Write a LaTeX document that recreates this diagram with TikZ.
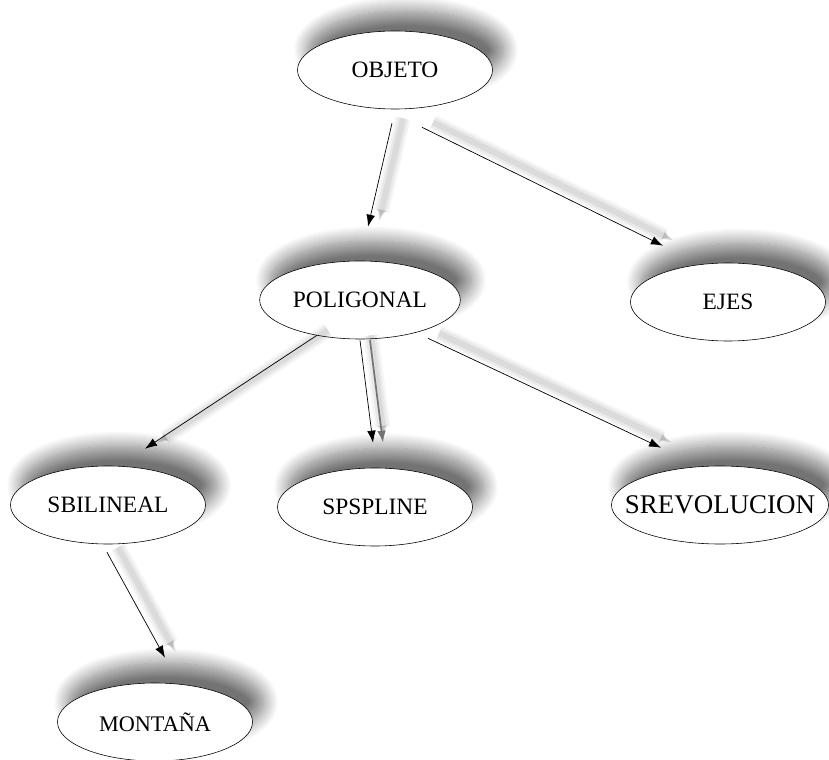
\documentclass[tikz,border=0pt]{standalone}
\usepackage{fontspec}
\setmainfont{Liberation Serif}
\usetikzlibrary{arrows.meta,shapes.geometric,shadows.blur}

\tikzset{
  nodo/.style={ellipse, draw, line width=0.5pt, fill=white,
    minimum width=5.85cm, minimum height=2.34cm,
    font=\fontsize{20}{24}\selectfont,
    blur shadow={shadow xshift=0.33cm, shadow yshift=0.6cm,
      shadow blur radius=0.45cm, shadow blur steps=16, shadow opacity=55}},
  % sombra difusa de las flechas
  flecha/.style={line width=0.6pt, -{Latex[length=3.6mm,width=2.6mm]},
    preaction={draw=black, opacity=0.04, line width=13pt, transform canvas={shift={(11,-5)}}},
    preaction={draw=black, opacity=0.05, line width=9pt, transform canvas={shift={(11,-5)}}},
    preaction={draw=black, opacity=0.06, line width=5pt, transform canvas={shift={(11,-5)}}}},
  flechafuerte/.style={flecha,
    preaction={draw=black!55, line width=1.4pt, transform canvas={shift={(10,0)}}}},
}

\begin{document}
\begin{tikzpicture}[x=0.03cm,y=-0.03cm]
  \useasboundingbox (0,0) rectangle (829,760);

  \node[nodo] (objeto) at (395,70) {OBJETO};
  \node[nodo] (poligonal) at (360,300) {POLIGONAL};
  \node[nodo] (ejes) at (728,302) {EJES};
  \node[nodo] (sbilineal) at (108,505) {SBILINEAL};
  \node[nodo] (spspline) at (375,507) {SPSPLINE};
  \node[nodo, minimum width=6.45cm, inner xsep=-0.55cm,
    font=\fontsize{23}{27}\selectfont] (srevolucion) at (720,505) {SREVOLUCION};
  \node[nodo, font=\fontsize{19}{23}\selectfont] (montana) at (155,722) {MONTAÑA};

  \draw[flecha] ([shift={(-3,14)}]objeto.south) -- ([shift={(8,-34)}]poligonal.north);
  \draw[flecha] ([shift={(27,18)}]objeto.south) -- ([shift={(-65,-17)}]ejes.north);
  \draw[flecha] ([shift={(-43,-4)}]poligonal.south) -- ([shift={(37,-17)}]sbilineal.north);
  \draw[flechafuerte] ([shift={(0,1)}]poligonal.south) -- ([shift={(-2,-25)}]spspline.north);
  \draw[flecha] ([shift={(68,-1)}]poligonal.south) -- ([shift={(-59,-18)}]srevolucion.north);
  \draw[flecha] ([shift={(-1,8)}]sbilineal.south) -- ([shift={(10,-25)}]montana.north);
\end{tikzpicture}
\end{document}
